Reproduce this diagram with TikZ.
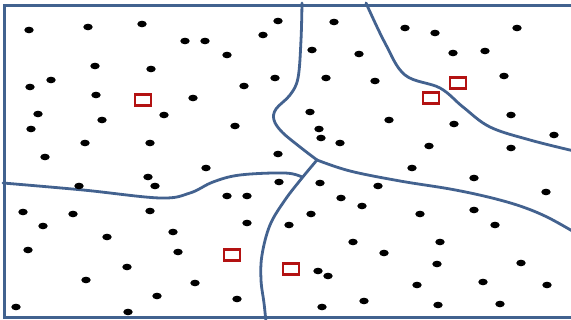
\documentclass[tikz,border=0pt]{standalone}
\usetikzlibrary{shapes.geometric}
\definecolor{frameblue}{HTML}{41628F}
\definecolor{curveblue}{HTML}{43628F}
\definecolor{sqred}{HTML}{B31212}
\tikzset{
  framestyle/.style={draw=frameblue, line width=3pt},
  boundary/.style={draw=curveblue, line width=2.8pt, line cap=round, smooth, tension=0.6},
  dotstyle/.style={fill=black},
  centroid/.style={draw=sqred, line width=2.6pt, fill=white, minimum width=16pt, minimum height=11pt, inner sep=0pt, rectangle}
}
\begin{document}
\begin{tikzpicture}[x=1pt, y=-1pt]
\useasboundingbox (0,0) rectangle (571,320);
\clip (0,0) rectangle (571,320);
\fill[white] (0,0) rectangle (571,320);
% boundaries
\draw[boundary] plot coordinates {(302,3) (301,40) (298,78) (290,95) (276,109) (274,120) (282,132) (300,147) (317,160)};
\draw[boundary] plot coordinates {(317,160) (350,171) (400,181) (450,189) (488,197) (520,206) (547,217) (574,232)};
\draw[boundary] plot coordinates {(366,3) (385,43) (405,75) (440,88) (463,107) (490,127) (530,140) (574,151)};
\draw[boundary] plot coordinates {(3,183) (83,190) (160,198) (190,193) (213,182) (240,175) (285,173) (302,177)};
\draw[boundary] plot coordinates {(317,160) (302,178) (285,200) (270,225) (262,255) (261,280) (264,303) (266,322)};
% dots
\foreach \x/\y in {29/30, 88/27, 142/24, 185/41, 205/41, 263/35, 278/21, 227/55, 95/66, 151/69,
  51/80, 30/87, 244/86, 275/78, 96/95, 193/98, 38/114, 164/115, 102/120, 31/129, 235/126,
  85/143, 150/143, 45/157, 278/154,
  334/22, 405/28, 435/33, 517/28, 312/50, 359/54, 453/53, 485/51, 326/78, 375/81, 504/76,
  310/112, 389/120, 454/124, 511/115, 319/129, 321/138, 340/143, 429/146, 511/148, 554/135,
  206/168, 148/177, 155/186, 79/186, 279/182, 227/196, 247/196, 23/212, 73/214, 150/211,
  43/226, 173/232, 107/237, 247/223, 289/225, 28/250, 178/252, 127/267, 86/280, 195/283,
  157/296, 237/299, 16/307, 128/312,
  412/168, 474/178, 546/192, 320/183, 378/186, 341/198, 362/206, 311/214, 420/214, 474/210,
  495/225, 353/242, 440/242, 384/253, 437/264, 521/263, 318/271, 328/276, 417/285, 483/282,
  547/285, 322/307, 364/301, 438/305, 500/304}
  \fill[dotstyle] (\x,\y) ellipse [x radius=4.7pt, y radius=3.3pt];
% centroids
\node[centroid] (c1) at (143,100) {};
\node[centroid] (c2) at (458,83) {};
\node[centroid] (c3) at (431,98) {};
\node[centroid] (c4) at (232,255) {};
\node[centroid] (c5) at (291,269) {};
% frame
\draw[framestyle] (580,5.5) -- (4.5,5.5) -- (4.5,318) -- (580,318);
\end{tikzpicture}
\end{document}
